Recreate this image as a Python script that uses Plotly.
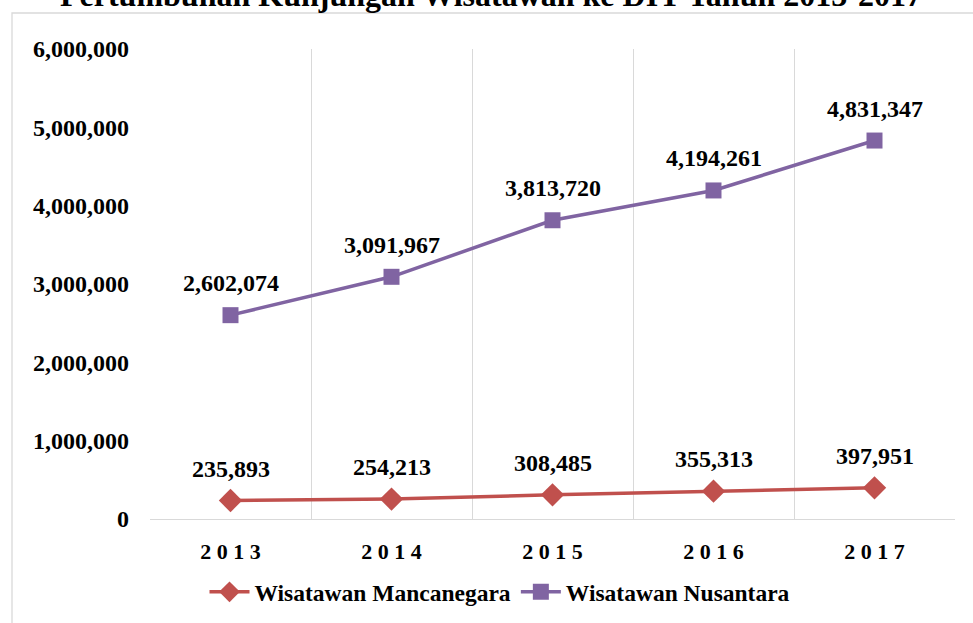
import plotly.graph_objects as go

years = ["2013", "2014", "2015", "2016", "2017"]
year_labels = ["2 0 1 3", "2 0 1 4", "2 0 1 5", "2 0 1 6", "2 0 1 7"]
mancanegara = [235893, 254213, 308485, 355313, 397951]
nusantara = [2602074, 3091967, 3813720, 4194261, 4831347]
y_ticks = [0, 1000000, 2000000, 3000000, 4000000, 5000000, 6000000]

RED = "#C0504D"
PURPLE = "#8064A2"
FONT = "Liberation Serif"

W, H = 973, 623
L, R, T, B = 150, 18, 49, 104
pw, ph = W - L - R, H - T - B

fig = go.Figure()
fig.add_trace(go.Scatter(
    x=years, y=mancanegara, name="<b>Wisatawan Mancanegara</b>", mode="lines+markers",
    line=dict(color=RED, width=3.5),
    marker=dict(symbol="diamond", size=18, color=RED),
))
fig.add_trace(go.Scatter(
    x=years, y=nusantara, name="<b>Wisatawan Nusantara</b>", mode="lines+markers",
    line=dict(color=PURPLE, width=3.5),
    marker=dict(symbol="square", size=16, color=PURPLE),
))

for series in (mancanegara, nusantara):
    for i, yv in enumerate(series):
        fig.add_annotation(xref="x", yref="y", x=i, y=yv, text="<b>" + f"{yv:,}" + "</b>",
                           showarrow=False, yshift=32,
                           font=dict(family=FONT, size=24, color="black"))

# title (partly cut off at the top)
fig.add_annotation(xref="paper", yref="paper", x=(491 - L) / pw, y=1 + (T - 15) / ph,
                   yanchor="bottom", xanchor="center", showarrow=False,
                   text="<b>Pertumbuhan Kunjungan Wisatawan ke DIY Tahun 2013-2017</b>",
                   font=dict(family=FONT, size=32, color="black"))

# outer frame
fig.add_shape(type="rect", xref="paper", yref="paper",
              x0=(12 - L) / pw, x1=(W + 5 - L) / pw,
              y0=-(H + 5 - T - ph) / ph, y1=1 + (T - 13) / ph,
              line=dict(color="#D9D9D9", width=1.3), fillcolor="rgba(0,0,0,0)")

fig.update_layout(
    width=W, height=H,
    margin=dict(l=L, r=R, t=T, b=B, autoexpand=False),
    paper_bgcolor="white", plot_bgcolor="white",
    font=dict(family=FONT, color="black"),
    showlegend=True,
    legend=dict(orientation="h", xref="container", yref="container",
                xanchor="center", x=500 / W,
                yanchor="middle", y=1 - 592 / H,
                font=dict(family=FONT, size=23.5, color="black"),
                itemwidth=40, tracegroupgap=0),
    xaxis=dict(type="category", tickson="boundaries", showgrid=True,
               gridcolor="#D9D9D9", gridwidth=1.3,
               tickvals=years, ticktext=[f"<b>{t}</b>" for t in year_labels],
               tickfont=dict(family=FONT, size=22, color="black"),
               showline=True, linecolor="#D9D9D9", linewidth=1.3,
               ticks="", ticklabelstandoff=12, range=[-0.5, 4.5], fixedrange=True),
    yaxis=dict(range=[0, 6000000], tickvals=y_ticks,
               ticktext=[f"<b>{v:,}</b>" for v in y_ticks],
               tickfont=dict(family=FONT, size=24, color="black"),
               showgrid=False, zeroline=False, showline=False,
               ticks="", ticklabelstandoff=20),
)

fig.write_html("out.html", config={"displayModeBar": False},
               post_script="document.body.style.margin='0';")
